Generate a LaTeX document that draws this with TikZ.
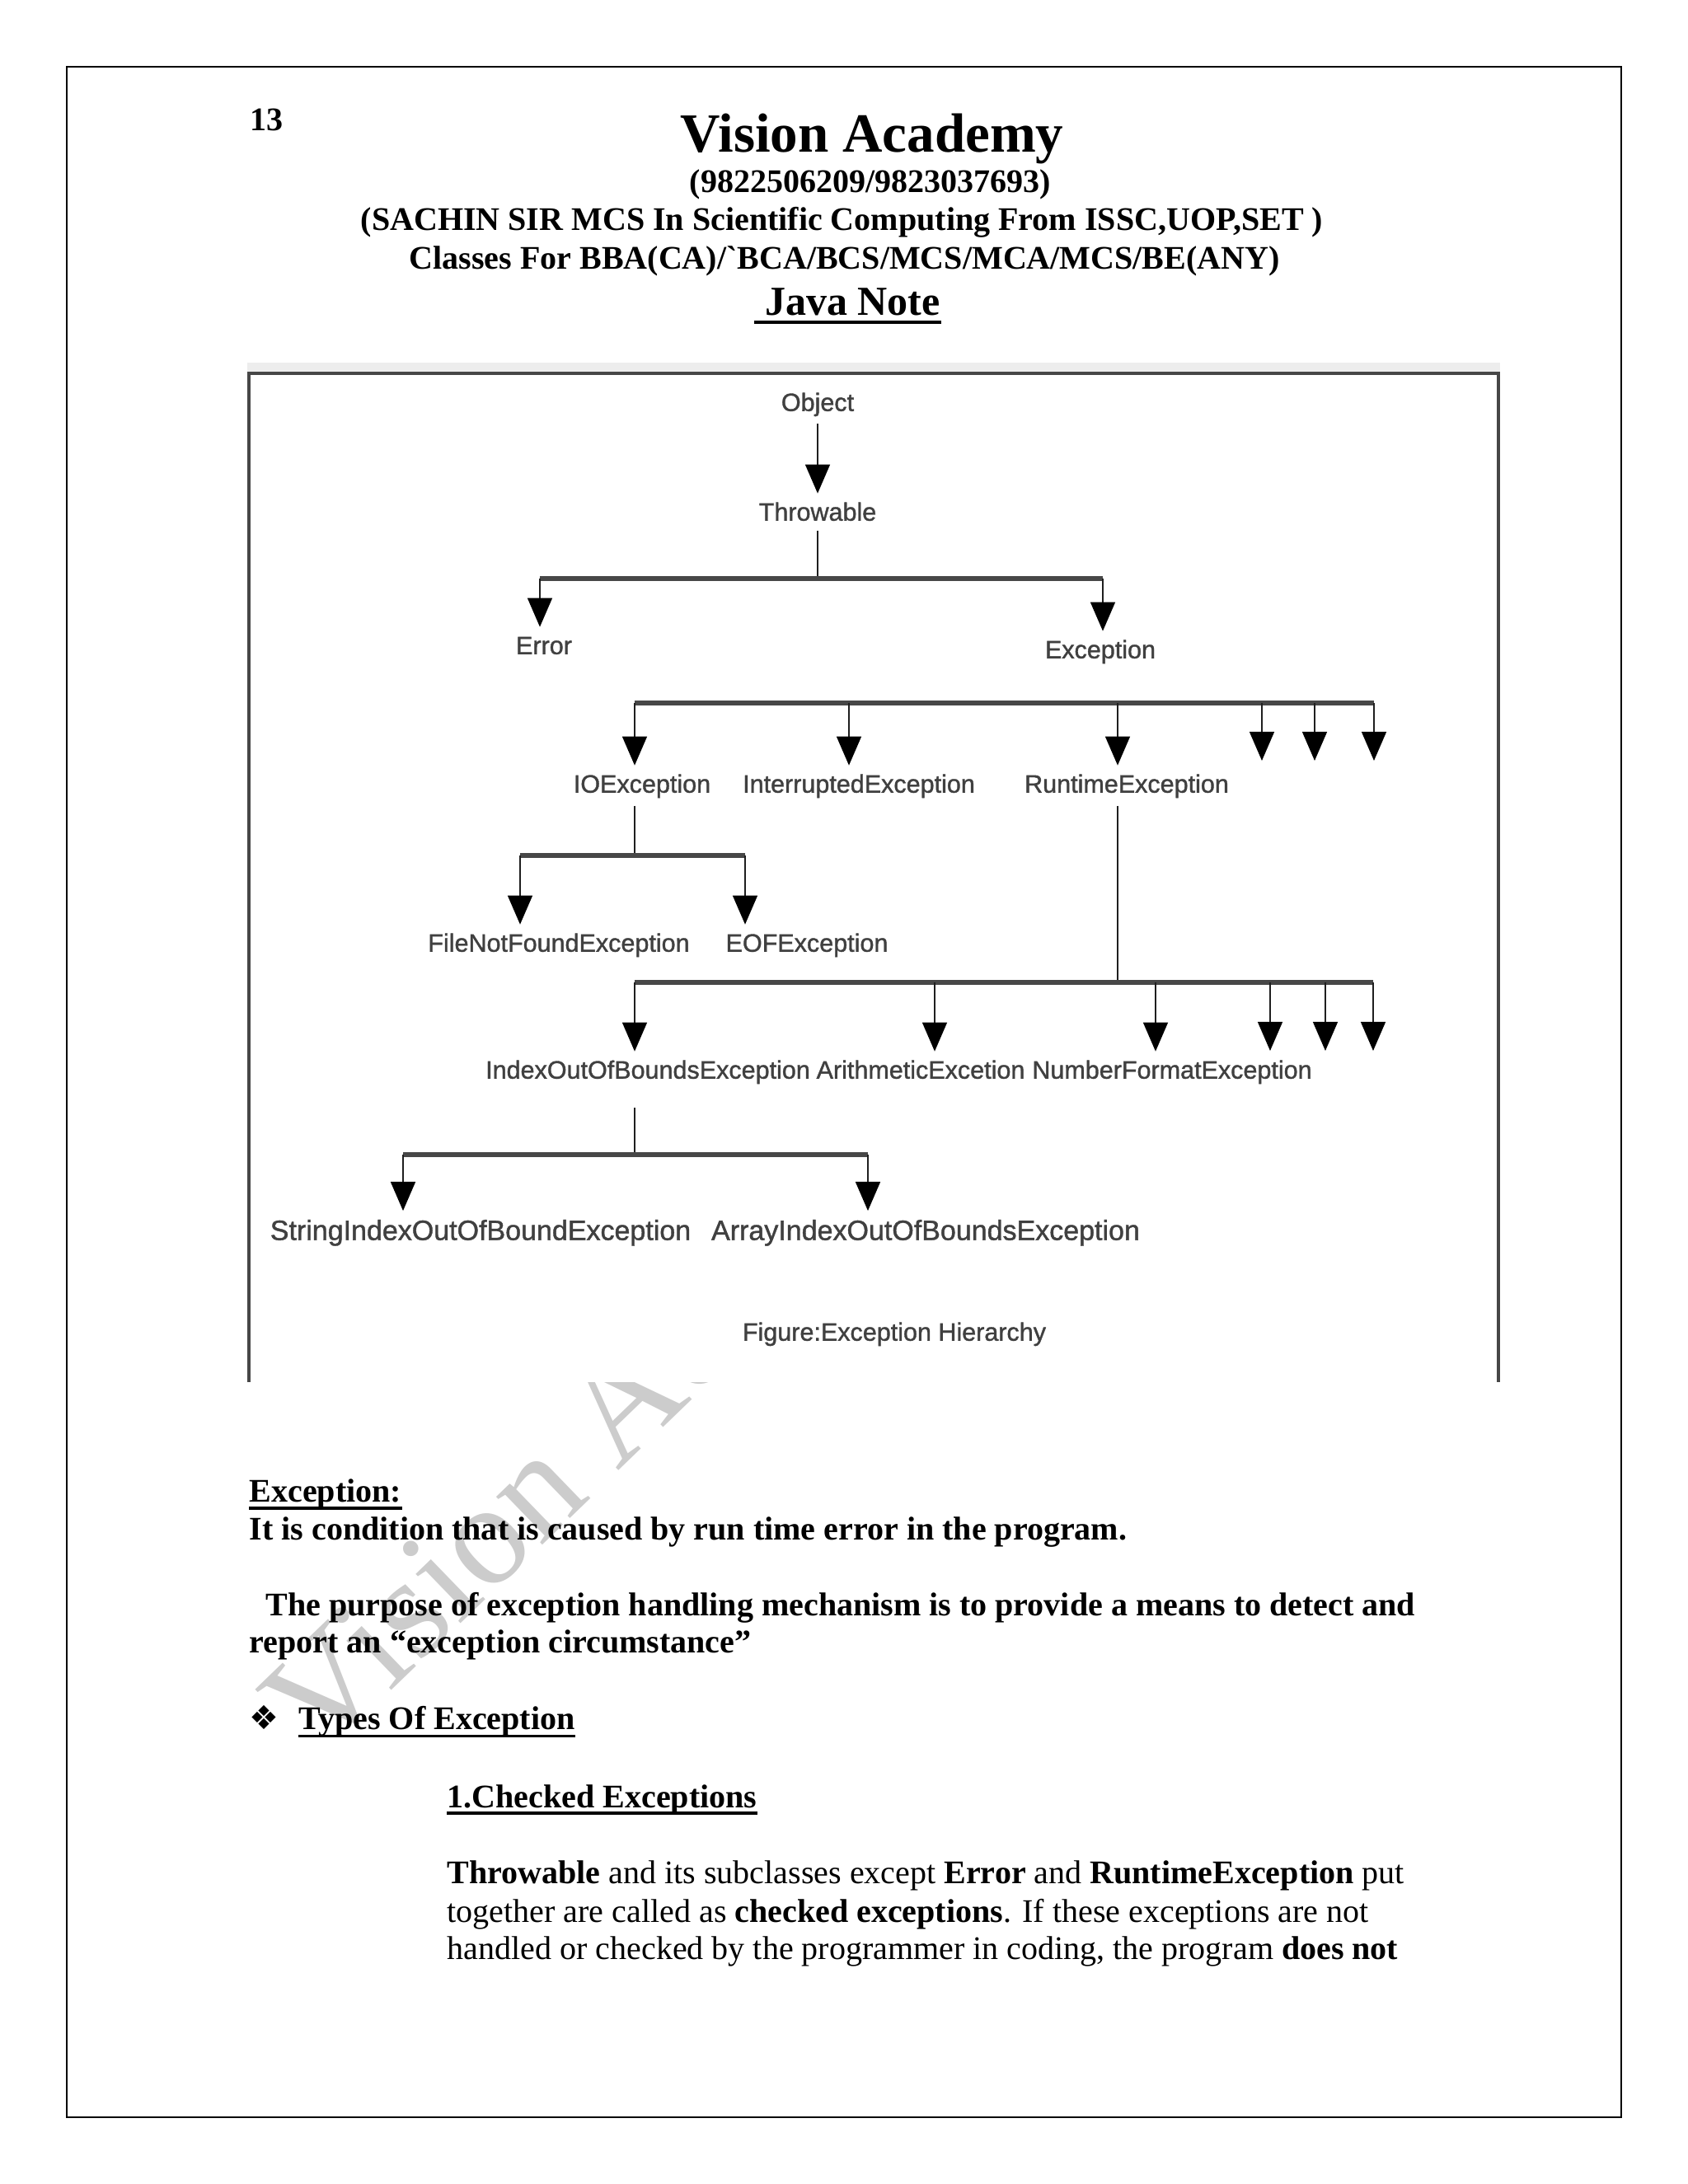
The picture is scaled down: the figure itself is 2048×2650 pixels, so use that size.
\documentclass[tikz,border=0pt]{standalone}
\usepackage{fontspec}
\setmainfont{Liberation Serif}
\newfontfamily\diagfont[FakeBold=1.2]{Liberation Sans}
\newfontfamily\dingfont{DejaVu Sans}
\usetikzlibrary{arrows.meta, calc}

\begin{document}
\begin{tikzpicture}[
  x=0.01cm, y=-0.01cm,
  hdr/.style={font=\fontsize{11.38}{13}\selectfont\bfseries, anchor=base west, inner sep=0pt},
  hdrbig/.style={font=\fontsize{19.06}{22}\selectfont\bfseries, anchor=base west, inner sep=0pt},
  hdrmid/.style={font=\fontsize{14.23}{17}\selectfont\bfseries, anchor=base west, inner sep=0pt},
  txt/.style={font=\fontsize{11.38}{13}\selectfont, anchor=base west, inner sep=0pt},
  txtb/.style={txt, font=\fontsize{11.38}{13}\selectfont\bfseries},
  ulline/.style={line width=1.1pt},
  wmark/.style={font=\fontsize{50}{56}\selectfont, text=black!20, anchor=base west, inner sep=0pt},
  cls/.style={font=\diagfont\fontsize{8.68}{10}\selectfont, text=black!75, inner sep=0pt, text height=6.2pt, text depth=1.8pt},
  bigcls/.style={cls, font=\diagfont\fontsize{9.67}{11}\selectfont, text height=6.9pt, text depth=2pt},
  bus/.style={draw=black!72, line width=1.5pt},
  stem/.style={draw=black!88, line width=0.6pt},
  arr/.style={stem, -{Triangle[length=10pt,width=8.5pt,color=black]}, shorten >=3pt},
  stub/.style={stem, -{Triangle[length=10pt,width=8.5pt,color=black]}}
]
\useasboundingbox[fill=white] (0,0) rectangle (2048,2650);

% watermark (under the text)
\node[wmark, rotate=44] (wm) at (388,2135) {Vision Academy};

% page frame
\draw[line width=0.55pt] (81,81) rectangle (1967,2569);

% header
\node[hdr] (pgno) at (303,158) {13};
\node[hdrbig] (vacad) at (825,184) {Vision Academy};
\node[hdr] (phone) at (836,233) {(9822506209/9823037693)};
\node[hdr] (sachin) at (437,279) {(SACHIN SIR MCS In Scientific Computing From ISSC,UOP,SET )};
\node[hdr] (classes) at (496,326) {Classes For BBA(CA)/\textasciigrave BCA/BCS/MCS/MCA/MCS/BE(ANY)};
\node[hdrmid] (jnote) at (915,382) {\ Java Note};
\draw[ulline] ([yshift=-2.5pt]jnote.base west) -- ([yshift=-2.5pt]jnote.base east);

% figure box
\fill[white] (302,440) rectangle (1818,1677);
\fill[black!7] (300,440) rectangle (1820,452);
\draw[black!72, line width=1pt] (302,1677) -- (302,453) -- (1818,453) -- (1818,1677);

% classes
\node[cls] (obj) at (992,491) {Object};
\node[cls] (thr) at (992,624) {Throwable};
\node[cls] (err) at (660,786) {Error};
\node[cls] (exc) at (1335,791) {Exception};
\node[cls] (ioe) at (779,954) {IOException};
\node[cls] (intr) at (1042,954) {InterruptedException};
\node[cls] (rte) at (1367,954) {RuntimeException};
\node[cls] (fnf) at (678,1147) {FileNotFoundException};
\node[cls] (eof) at (979,1147) {EOFException};
\node[cls] (ioob) at (786,1301) {IndexOutOfBoundsException};
\node[cls] (arith) at (1117,1301) {ArithmeticExcetion};
\node[cls] (nfe) at (1422,1301) {NumberFormatException};
\node[bigcls] (sioob) at (583,1496) {StringIndexOutOfBoundException};
\node[bigcls] (aioob) at (1123,1496) {ArrayIndexOutOfBoundsException};
\node[cls] (cap) at (1085,1619) {Figure:Exception Hierarchy};

% Object -> Throwable
\draw[arr, shorten <=2.3pt] (obj) -- (thr);

% Throwable -> Error, Exception
\coordinate (tbus) at (992,702);
\coordinate (tbL) at (655,702);
\coordinate (tbR) at (1338,702);
\draw[stem, shorten <=1.4pt] (thr) -- (tbus);
\draw[bus] (tbL) -- (tbR);
\draw[arr] (tbL) -- (tbL |- err.north);
\draw[arr] (tbR) -- (tbR |- exc.north);

% Exception -> subclasses
\foreach \n/\x in {e1/770, e2/1030, e3/1356, e4/1531, e5/1595, e6/1667}
  \coordinate (\n) at (\x,853);
\draw[bus] (e1) -- (e6);
\draw[arr] (e1) -- (e1 |- ioe.north);
\draw[arr] (e2) -- (e2 |- intr.north);
\draw[arr] (e3) -- (e3 |- rte.north);
\foreach \n/\x in {e4/1531, e5/1595, e6/1667}{
  \coordinate (\n t) at (\x,923);
  \draw[stub] (\n) -- (\n t);
}

% IOException -> FileNotFound, EOF
\coordinate (iobus) at (770,1038);
\coordinate (ioL) at (631,1038);
\coordinate (ioR) at (904,1038);
\draw[stem, shorten <=2.5pt] (iobus |- ioe.south) -- (iobus);
\draw[bus] (ioL) -- (ioR);
\draw[arr] (ioL) -- (ioL |- fnf.north);
\draw[arr] (ioR) -- (ioR |- eof.north);

% RuntimeException -> subclasses
\coordinate (rbus) at (1356,1192);
\foreach \n/\x in {r1/770, r2/1134, r3/1402, r4/1541, r5/1608, r6/1666}
  \coordinate (\n) at (\x,1192);
\draw[stem, shorten <=2.5pt] (rbus |- rte.south) -- (rbus);
\draw[bus] (r1) -- (r6);
\draw[arr] (r1) -- (r1 |- ioob.north);
\draw[arr] (r2) -- (r2 |- arith.north);
\draw[arr] (r3) -- (r3 |- nfe.north);
\foreach \n/\x in {r4/1541, r5/1608, r6/1666}{
  \coordinate (\n t) at (\x,1275);
  \draw[stub] (\n) -- (\n t);
}

% IndexOutOfBounds -> String..., Array...
\coordinate (sbus) at (770,1401);
\coordinate (sbL) at (489,1401);
\coordinate (sbR) at (1053,1401);
\draw[stem, shorten <=8pt] (sbus |- ioob.south) -- (sbus);
\draw[bus] (sbL) -- (sbR);
\draw[arr] (sbL) -- (sbL |- sioob.north);
\draw[arr] (sbR) -- (sbR |- aioob.north);

% body text
\node[txtb] (exhd) at (302,1822) {Exception:};
\draw[ulline] ([yshift=-2.2pt]exhd.base west) -- ([yshift=-2.2pt]exhd.base east);
\node[txtb] (exdef) at (302,1868) {It is condition that is caused by run time error in the program.};
\node[txtb] (purp1) at (302,1960) {\ \ The purpose of exception handling mechanism is to provide a means to detect and};
\node[txtb] (purp2) at (302,2005) {report an “exception circumstance”};
\node[txt, font=\dingfont\fontsize{11.38}{13}\selectfont] (bul) at (302,2098) {❖};
\node[txtb] (types) at (362,2098) {Types Of Exception};
\draw[ulline] ([yshift=-2.4pt]types.base west) -- ([yshift=-2.4pt]types.base east);
\node[txtb] (chk) at (542,2193) {1.Checked Exceptions};
\draw[ulline] ([yshift=-2pt]chk.base west) -- ([yshift=-2pt]chk.base east);
\node[txt] (para1) at (542,2285) {\textbf{Throwable} and its subclasses except \textbf{Error} and \textbf{RuntimeException} put};
\node[txt] (para2) at (542,2332) {together are called as \textbf{checked exceptions}. If these exceptions are not};
\node[txt] (para3) at (542,2377) {handled or checked by the programmer in coding, the program \textbf{does not}};
\end{tikzpicture}
\end{document}
